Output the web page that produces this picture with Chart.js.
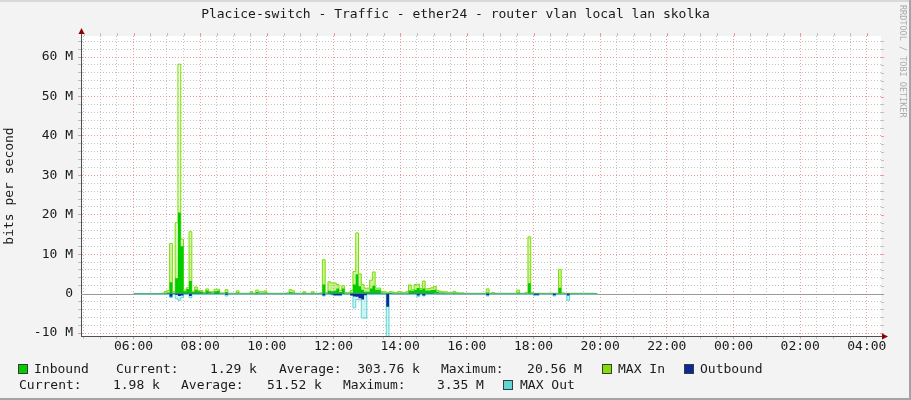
<!DOCTYPE html>
<html>
<head>
<meta charset="utf-8">
<title>Placice-switch - Traffic - ether24</title>
<script src="https://cdn.jsdelivr.net/npm/chart.js@4.4.1/dist/chart.umd.min.js"></script>
<style>
  html, body { margin: 0; padding: 0; background: #f3f3f3; }
  #wrap { position: relative; width: 911px; height: 400px; background: #f3f3f3; overflow: hidden;
          font-family: "DejaVu Sans Mono", monospace; font-size: 13px; color: #1a1a1a; }
  #graf { position: absolute; left: 0; top: 0; }
  .txt { position: absolute; white-space: pre; line-height: 15px; }
  .caja { position: absolute; width: 8px; height: 8px; border: 1px solid #3a3a3a; }
  #titulo { left: 0; top: 6px; width: 911px; text-align: center; }
  #marca { position: absolute; left: 898px; top: 5px; writing-mode: vertical-rl; font-size: 8.5px;
           line-height: 10px; color: #ababab; white-space: pre; }
  .borde { position: absolute; }
</style>
</head>
<body>
<div id="wrap">
  <canvas id="graf" width="911" height="400"></canvas>
  <div id="titulo" class="txt">Placice-switch - Traffic - ether24 - router vlan local lan skolka</div>
  <div id="marca">RRDTOOL / TOBI OETIKER</div>

  <!-- leyenda estilo rrdtool -->
  <div class="caja" style="left:18px;top:364px;background:#00cc00"></div>
  <div class="txt" style="left:34px;top:361px">Inbound</div>
  <div class="txt" style="left:116px;top:361px">Current:    1.29 k</div>
  <div class="txt" style="left:279px;top:361px">Average:  303.76 k</div>
  <div class="txt" style="left:441px;top:361px">Maximum:   20.56 M</div>
  <div class="caja" style="left:602px;top:364px;background:#80e000"></div>
  <div class="txt" style="left:618px;top:361px">MAX In</div>
  <div class="caja" style="left:684px;top:364px;background:#0a2a9a"></div>
  <div class="txt" style="left:700px;top:361px">Outbound</div>

  <div class="txt" style="left:19px;top:377px">Current:    1.98 k</div>
  <div class="txt" style="left:181px;top:377px">Average:   51.52 k</div>
  <div class="txt" style="left:343px;top:377px">Maximum:    3.35 M</div>
  <div class="caja" style="left:503px;top:380px;background:#5ed6d6"></div>
  <div class="txt" style="left:520px;top:377px">MAX Out</div>

  <div class="borde" style="left:0;top:0;width:911px;height:2px;background:#d8d8d8"></div>
  <div class="borde" style="left:909px;top:0;width:2px;height:400px;background:#a4a4a4"></div>
  <div class="borde" style="left:0;top:398px;width:911px;height:2px;background:#a4a4a4"></div>
</div>

<script>
// ====================
// Datos (Mbit/s), un valor cada 5 minutos desde las 06:00
// ====================
const INICIO_H = 6;
const PASO_H = 5 / 60;

const inbound = [
    0.02, 0.02, 0.02, 0.02, 0.02, 0.02, 0.02, 0.02, 0.02, 0.02, 0.05, 0.2,   // 06
    0.3, 2.9, 0.2, 3.9, 20.56, 12.0, 0.6, 1.2, 3.2, 0.4, 1.0, 0.6,           // 07
    0.5, 0.2, 0.8, 0.4, 0.3, 0.6, 0.7, 0.1, 0.1, 0.4, 0.05, 0.05,            // 08
    0.05, 0.3, 0.05, 0.05, 0.05, 0.05, 0.2, 0.05, 0.4, 0.2, 0.2, 0.3,        // 09
    0.05, 0.05, 0.05, 0.05, 0.05, 0.05, 0.05, 0.1, 0.4, 0.3, 0.05, 0.05,     // 10
    0.05, 0.2, 0.05, 0.05, 0.2, 0.05, 0.05, 0.1, 2.3, 0.1, 0.7, 0.6,         // 11
    0.7, 1.3, 0.4, 1.3, 0.1, 0.1, 0.3, 2.3, 4.9, 1.9, 1.0, 0.5,              // 12
    0.5, 1.3, 2.0, 1.0, 1.0, 0.3, 0.2, 0.1, 0.2, 0.2, 0.1, 0.2,              // 13
    0.2, 0.1, 0.2, 0.8, 0.7, 1.0, 1.4, 1.0, 1.3, 0.8, 0.8, 0.9,              // 14
    1.0, 0.5, 0.3, 0.3, 0.2, 0.1, 0.1, 0.3, 0.1, 0.1, 0.1, 0.05,             // 15
    0.05, 0.05, 0.05, 0.05, 0.05, 0.05, 0.05, 0.3, 0.05, 0.1, 0.05, 0.05,    // 16
    0.05, 0.05, 0.05, 0.05, 0.05, 0.05, 0.3, 0.05, 0.05, 0.1, 2.6, 0.1,      // 17
    0.05, 0.05, 0.05, 0.05, 0.05, 0.05, 0.05, 0.05, 0.05, 1.5, 0.05, 0.05,   // 18
    0.05, 0.05, 0.05, 0.05, 0.05, 0.05, 0.05, 0.05, 0.05, 0.05, 0.0013       // 19
];
const maxIn = [
    0.05, 0.05, 0.05, 0.05, 0.05, 0.05, 0.05, 0.05, 0.05, 0.05, 0.1, 0.5,
    0.8, 12.7, 0.5, 18.0, 58.2, 13.8, 0.9, 1.5, 15.7, 0.6, 1.7, 0.8,
    0.8, 0.3, 1.2, 0.5, 0.5, 1.1, 1.1, 0.2, 0.2, 1.0, 0.1, 0.1,
    0.1, 0.7, 0.1, 0.1, 0.1, 0.1, 0.5, 0.1, 0.9, 0.5, 0.5, 0.7,
    0.1, 0.1, 0.1, 0.1, 0.1, 0.1, 0.1, 0.2, 1.0, 0.7, 0.1, 0.1,
    0.1, 0.5, 0.1, 0.1, 0.5, 0.1, 0.1, 0.2, 8.6, 0.3, 3.0, 2.7,
    2.7, 2.3, 0.8, 2.0, 0.3, 0.3, 0.8, 5.6, 15.4, 5.0, 2.3, 1.4,
    1.4, 3.4, 5.5, 1.4, 1.4, 0.5, 0.5, 0.3, 0.5, 0.4, 0.3, 0.5,
    0.4, 0.3, 0.5, 2.2, 1.0, 2.3, 2.4, 1.3, 3.2, 1.2, 1.3, 1.5,
    1.8, 0.8, 0.6, 0.5, 0.5, 0.3, 0.3, 0.6, 0.3, 0.2, 0.2, 0.1,
    0.1, 0.1, 0.1, 0.1, 0.1, 0.1, 0.1, 1.2, 0.1, 0.3, 0.1, 0.1,
    0.1, 0.1, 0.1, 0.1, 0.1, 0.1, 0.9, 0.1, 0.1, 0.3, 14.4, 0.3,
    0.1, 0.1, 0.1, 0.1, 0.1, 0.1, 0.1, 0.1, 0.1, 6.1, 0.2, 0.1,
    0.1, 0.1, 0.1, 0.1, 0.1, 0.1, 0.1, 0.1, 0.1, 0.1, 0.05
];
const outbound = [
    -0.02, -0.02, -0.02, -0.02, -0.02, -0.02, -0.02, -0.02, -0.02, -0.02, -0.02, -0.02,
    -0.1, -0.8, -0.1, -0.3, -0.6, -0.5, -0.1, -0.1, -0.6, -0.1, -0.1, -0.1,
    -0.1, -0.05, -0.1, -0.05, -0.05, -0.1, -0.1, -0.05, -0.05, -0.3, -0.05, -0.05,
    -0.05, -0.05, -0.05, -0.05, -0.05, -0.05, -0.05, -0.05, -0.05, -0.05, -0.05, -0.05,
    -0.05, -0.05, -0.05, -0.05, -0.05, -0.05, -0.05, -0.05, -0.05, -0.05, -0.05, -0.05,
    -0.05, -0.05, -0.05, -0.05, -0.05, -0.05, -0.05, -0.05, -0.5, -0.05, -0.1, -0.2,
    -0.4, -0.4, -0.4, -0.1, -0.05, -0.05, -0.5, -0.7, -0.8, -1.2, -1.5, -0.4,
    -0.1, -0.1, -0.1, -0.1, -0.1, -0.05, -0.05, -3.35, -0.1, -0.05, -0.05, -0.05,
    -0.05, -0.05, -0.05, -0.1, -0.1, -0.1, -0.5, -0.1, -0.5, -0.1, -0.1, -0.1,
    -0.05, -0.05, -0.05, -0.05, -0.05, -0.05, -0.05, -0.05, -0.05, -0.05, -0.05, -0.05,
    -0.05, -0.05, -0.05, -0.05, -0.05, -0.05, -0.05, -0.4, -0.05, -0.05, -0.05, -0.05,
    -0.05, -0.05, -0.05, -0.05, -0.05, -0.05, -0.05, -0.05, -0.05, -0.05, -0.05, -0.05,
    -0.3, -0.3, -0.05, -0.05, -0.05, -0.05, -0.05, -0.4, -0.05, -0.05, -0.05, -0.05,
    -0.5, -0.02, -0.02, -0.02, -0.02, -0.02, -0.02, -0.02, -0.02, -0.02, -0.002
];
const maxOut = [
    -0.1, -0.1, -0.1, -0.1, -0.1, -0.1, -0.1, -0.1, -0.1, -0.1, -0.1, -0.1,
    -0.2, -1.0, -0.2, -1.3, -1.7, -1.0, -0.2, -0.2, -1.0, -0.2, -0.2, -0.2,
    -0.2, -0.1, -0.2, -0.1, -0.1, -0.2, -0.2, -0.1, -0.1, -0.6, -0.1, -0.1,
    -0.1, -0.1, -0.1, -0.1, -0.1, -0.1, -0.1, -0.1, -0.1, -0.1, -0.1, -0.1,
    -0.1, -0.1, -0.1, -0.1, -0.1, -0.1, -0.1, -0.1, -0.1, -0.1, -0.1, -0.1,
    -0.1, -0.1, -0.1, -0.1, -0.1, -0.1, -0.1, -0.1, -0.6, -0.1, -0.2, -0.3,
    -0.5, -0.5, -0.5, -0.2, -0.1, -0.1, -0.4, -3.6, -1.5, -1.6, -6.2, -6.2,
    -0.2, -0.2, -0.2, -0.2, -0.2, -0.1, -0.1, -12.0, -0.2, -0.1, -0.1, -0.1,
    -0.1, -0.1, -0.1, -0.2, -0.2, -0.2, -0.8, -0.2, -0.6, -0.2, -0.2, -0.2,
    -0.1, -0.1, -0.1, -0.1, -0.1, -0.1, -0.1, -0.1, -0.1, -0.1, -0.1, -0.1,
    -0.1, -0.1, -0.1, -0.1, -0.1, -0.1, -0.1, -0.6, -0.1, -0.1, -0.1, -0.1,
    -0.1, -0.1, -0.1, -0.1, -0.1, -0.1, -0.1, -0.1, -0.1, -0.1, -0.1, -0.1,
    -0.5, -0.5, -0.1, -0.1, -0.1, -0.1, -0.1, -0.6, -0.1, -0.1, -0.1, -0.1,
    -1.7, -0.1, -0.1, -0.1, -0.1, -0.1, -0.1, -0.1, -0.1, -0.1, -0.1
];

// Ejes: horas del día (24 h desde las 04:25) y Mbit/s
const horasMayores = [6, 8, 10, 12, 14, 16, 18, 20, 22, 24, 26, 28];
const etiquetasHora = ["06:00", "08:00", "10:00", "12:00", "14:00", "16:00",
                       "18:00", "20:00", "22:00", "00:00", "02:00", "04:00"];
const valoresEjeY = [-10, 0, 10, 20, 30, 40, 50, 60];
const etiquetasEjeY = ["-10 M", "0", "10 M", "20 M", "30 M", "40 M", "50 M", "60 M"];

const X_MIN = 4.425, X_MAX = 28.425;
const Y_MIN = -10.75, Y_MAX = 65.35;

// ====================
// Gráfico
// ====================
(() => {
    const el = (id) => document.getElementById(id);
    const FUENTE = "'DejaVu Sans Mono', monospace";
    const ROJO = "rgba(235,120,120,0.75)";
    const GRIS = "rgba(175,175,175,0.75)";

    // rejilla menor: cada 30 min y cada 2 M
    const ticksX = [];
    for (let h = 4.5; h < X_MAX; h += 0.5) ticksX.push(h);
    const ticksY = [];
    for (let v = -10; v < Y_MAX; v += 2) ticksY.push(v);

    const colorX = (v) => horasMayores.includes(v) ? ROJO : GRIS;
    const colorY = (v) => v === 0 ? "rgba(0,0,0,0)" : (valoresEjeY.includes(v) ? ROJO : GRIS);

    // un punto por muestra + cierre del último escalón
    const puntos = (arr) => {
        const p = arr.map((v, i) => ({ x: INICIO_H + i * PASO_H, y: v }));
        p.push({ x: INICIO_H + arr.length * PASO_H, y: arr[arr.length - 1] });
        return p;
    };

    const degradadoMaxIn = (ctx) => {
        const { chart } = ctx;
        const a = chart.chartArea;
        if (!a) return "rgba(128,224,0,0.25)";
        const y0 = chart.scales.y.getPixelForValue(0);
        const g = chart.ctx.createLinearGradient(0, y0, 0, a.top);
        g.addColorStop(0, "rgba(128,224,0,0.45)");
        g.addColorStop(0.35, "rgba(128,224,0,0.2)");
        g.addColorStop(1, "rgba(128,224,0,0.03)");
        return g;
    };

    const fondo = {
        id: "fondo",
        beforeDraw(chart) {
            const { ctx, chartArea: a } = chart;
            ctx.save();
            ctx.fillStyle = "#ffffff";
            ctx.fillRect(a.left, a.top, a.right - a.left, a.bottom - a.top);
            ctx.restore();
        }
    };

    const lineaCero = {
        id: "lineaCero",
        beforeDatasetsDraw(chart) {
            const { ctx, chartArea: a, scales: { y } } = chart;
            const py = Math.round(y.getPixelForValue(0)) + 0.5;
            ctx.save();
            ctx.strokeStyle = "#9a9a9a";
            ctx.lineWidth = 1;
            ctx.beginPath(); ctx.moveTo(a.left, py); ctx.lineTo(a.right, py); ctx.stroke();
            ctx.restore();
        }
    };

    const flechas = {
        id: "flechas",
        afterDraw(chart) {
            const { ctx, chartArea: a, scales: { x, y } } = chart;
            ctx.save();
            ctx.lineWidth = 1;
            // marcas por fuera arriba y a la derecha
            x.ticks.forEach(t => {
                const px = Math.round(x.getPixelForValue(t.value)) + 0.5;
                ctx.strokeStyle = colorX(t.value);
                ctx.beginPath(); ctx.moveTo(px, a.top - 3); ctx.lineTo(px, a.top); ctx.stroke();
            });
            y.ticks.forEach(t => {
                const py = Math.round(y.getPixelForValue(t.value)) + 0.5;
                ctx.strokeStyle = t.value === 0 ? "#9a9a9a" : colorY(t.value);
                ctx.beginPath(); ctx.moveTo(a.right, py); ctx.lineTo(a.right + 3, py); ctx.stroke();
            });
            // prolongación de los ejes
            ctx.strokeStyle = "#505050";
            ctx.beginPath();
            ctx.moveTo(a.left + 0.5, a.top); ctx.lineTo(a.left + 0.5, a.top - 4);
            ctx.moveTo(a.right, a.bottom + 0.5); ctx.lineTo(a.right + 4, a.bottom + 0.5);
            ctx.stroke();
            // puntas de flecha
            ctx.fillStyle = "#8b0000";
            ctx.beginPath();
            ctx.moveTo(a.left + 0.5, a.top - 8); ctx.lineTo(a.left - 2.5, a.top - 2); ctx.lineTo(a.left + 3.5, a.top - 2);
            ctx.closePath(); ctx.fill();
            ctx.beginPath();
            ctx.moveTo(a.right + 7, a.bottom + 0.5); ctx.lineTo(a.right + 1, a.bottom - 2.5); ctx.lineTo(a.right + 1, a.bottom + 3.5);
            ctx.closePath(); ctx.fill();
            ctx.restore();
        }
    };

    new Chart(el("graf"), {
        type: "line",
        data: {
            datasets: [
                { label: "MAX In", data: puntos(maxIn), stepped: "before", borderColor: "#7ae000",
                  borderWidth: 1, backgroundColor: degradadoMaxIn, fill: "origin", order: 4 },
                { label: "Inbound", data: puntos(inbound), stepped: "before", borderColor: "#00cc00",
                  borderWidth: 0, backgroundColor: "#00cc00", fill: "origin", order: 3 },
                { label: "MAX Out", data: puntos(maxOut), stepped: "before", borderColor: "#5ed6d6",
                  borderWidth: 1, backgroundColor: "rgba(94,214,214,0.3)", fill: "origin", order: 2 },
                { label: "Outbound", data: puntos(outbound), stepped: "before", borderColor: "#0a2a9a",
                  borderWidth: 0, backgroundColor: "#0a2a9a", fill: "origin", order: 1 }
            ]
        },
        options: {
            responsive: false,
            animation: false,
            events: [],
            elements: { point: { radius: 0 }, line: { tension: 0 } },
            layout: { padding: { left: 0, right: 30, top: 36, bottom: 0 } },
            plugins: { legend: { display: false }, tooltip: { enabled: false }, title: { display: false } },
            scales: {
                x: {
                    type: "linear", min: X_MIN, max: X_MAX,
                    afterBuildTicks: (eje) => { eje.ticks = ticksX.map(v => ({ value: v })); },
                    afterFit: (eje) => { eje.height = 64; },
                    ticks: {
                        autoSkip: false, maxRotation: 0, padding: 0, color: "#1a1a1a",
                        font: { family: FUENTE, size: 13 },
                        callback: (v) => {
                            const k = horasMayores.indexOf(v);
                            return k >= 0 ? etiquetasHora[k] : "";
                        }
                    },
                    grid: { color: (c) => colorX(c.tick.value), tickLength: 3, lineWidth: 1 },
                    border: { color: "#505050", width: 1, dash: [1, 2] }
                },
                y: {
                    min: Y_MIN, max: Y_MAX,
                    afterBuildTicks: (eje) => { eje.ticks = ticksY.map(v => ({ value: v })); },
                    afterFit: (eje) => { eje.width = 81; },
                    ticks: {
                        autoSkip: false, padding: 5, color: "#1a1a1a",
                        font: { family: FUENTE, size: 13 },
                        callback: (v) => {
                            const k = valoresEjeY.indexOf(v);
                            return k >= 0 ? etiquetasEjeY[k] : "";
                        }
                    },
                    grid: { color: (c) => colorY(c.tick.value), tickLength: 3, lineWidth: 1 },
                    border: { color: "#505050", width: 1, dash: [1, 2] },
                    title: {
                        display: true, text: "bits per second", color: "#1a1a1a",
                        font: { family: FUENTE, size: 13 }, padding: { top: 2, bottom: 0 }
                    }
                }
            }
        },
        plugins: [fondo, lineaCero, flechas]
    });
})();
</script>
</body>
</html>
